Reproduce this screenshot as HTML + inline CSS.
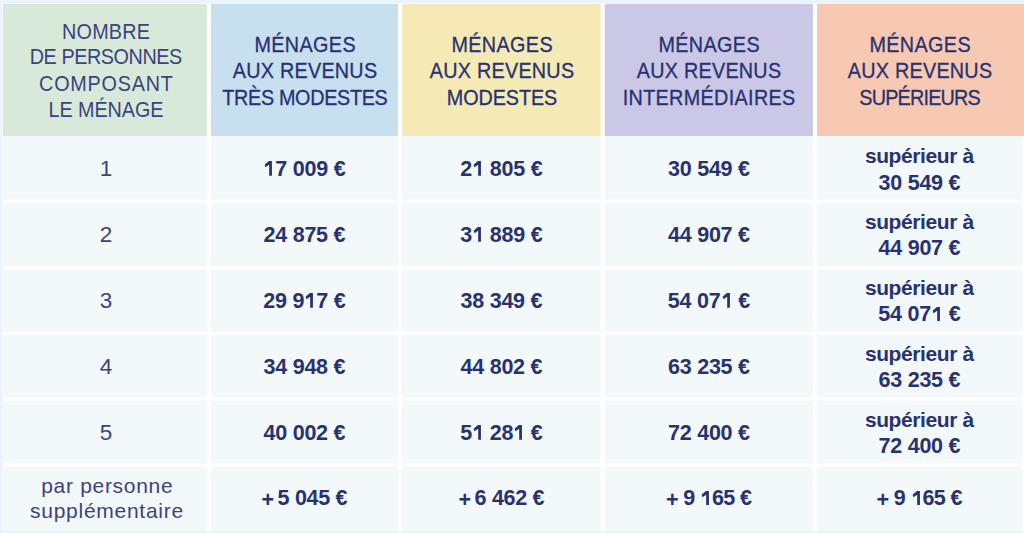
<!DOCTYPE html>
<html><head><meta charset="utf-8"><style>
html,body{margin:0;padding:0;}
body{width:1024px;height:533px;background:#ebf3fd;position:relative;overflow:hidden;font-family:"Liberation Sans",sans-serif;color:#283270;}
.fr{position:absolute;left:2px;top:3px;width:1022px;height:528px;background:#fff;box-sizing:border-box;border-left:1px solid #f3f8fe;border-top:1px solid #f3f8fe;}
.c{position:absolute;}
.pl{position:relative;top:1.2px;}
.ns{letter-spacing:-2.2px;}
.one{width:0.5562em;height:0.688em;vertical-align:baseline;fill:currentColor;}
.t{position:absolute;white-space:nowrap;text-align:center;width:400px;}
</style></head><body><div class="fr"></div>
<svg class="c" style="left:0;top:0" width="1024" height="533" viewBox="0 0 1024 533"><rect x="3" y="4" width="203.95" height="132" fill="#d8e9d9"/><rect x="210.9" y="4" width="187.1" height="132" fill="#c8dff0"/><rect x="402.1" y="4" width="198.6" height="132" fill="#f5eab5"/><rect x="604.8" y="4" width="208.1" height="132" fill="#cac8e6"/><rect x="817" y="4" width="207" height="132" fill="#f8c9b2"/><rect x="3" y="136" width="203.95" height="63.55" fill="#f3f8fb"/><rect x="210.9" y="136" width="187.1" height="63.55" fill="#f3f8fb"/><rect x="402.1" y="136" width="198.6" height="63.55" fill="#f3f8fb"/><rect x="604.8" y="136" width="208.1" height="63.55" fill="#f3f8fb"/><rect x="817" y="136" width="205" height="63.55" fill="#f3f8fb"/><rect x="3" y="203.05" width="203.95" height="63.0" fill="#f3f8fb"/><rect x="210.9" y="203.05" width="187.1" height="63.0" fill="#f3f8fb"/><rect x="402.1" y="203.05" width="198.6" height="63.0" fill="#f3f8fb"/><rect x="604.8" y="203.05" width="208.1" height="63.0" fill="#f3f8fb"/><rect x="817" y="203.05" width="205" height="63.0" fill="#f3f8fb"/><rect x="3" y="269.55" width="203.95" height="62.05" fill="#f3f8fb"/><rect x="210.9" y="269.55" width="187.1" height="62.05" fill="#f3f8fb"/><rect x="402.1" y="269.55" width="198.6" height="62.05" fill="#f3f8fb"/><rect x="604.8" y="269.55" width="208.1" height="62.05" fill="#f3f8fb"/><rect x="817" y="269.55" width="205" height="62.05" fill="#f3f8fb"/><rect x="3" y="335.1" width="203.95" height="62.25" fill="#f3f8fb"/><rect x="210.9" y="335.1" width="187.1" height="62.25" fill="#f3f8fb"/><rect x="402.1" y="335.1" width="198.6" height="62.25" fill="#f3f8fb"/><rect x="604.8" y="335.1" width="208.1" height="62.25" fill="#f3f8fb"/><rect x="817" y="335.1" width="205" height="62.25" fill="#f3f8fb"/><rect x="3" y="400.85" width="203.95" height="62.35" fill="#f3f8fb"/><rect x="210.9" y="400.85" width="187.1" height="62.35" fill="#f3f8fb"/><rect x="402.1" y="400.85" width="198.6" height="62.35" fill="#f3f8fb"/><rect x="604.8" y="400.85" width="208.1" height="62.35" fill="#f3f8fb"/><rect x="817" y="400.85" width="205" height="62.35" fill="#f3f8fb"/><rect x="3" y="466.7" width="203.95" height="64.3" fill="#f3f8fb"/><rect x="210.9" y="466.7" width="187.1" height="64.3" fill="#f3f8fb"/><rect x="402.1" y="466.7" width="198.6" height="64.3" fill="#f3f8fb"/><rect x="604.8" y="466.7" width="208.1" height="64.3" fill="#f3f8fb"/><rect x="817" y="466.7" width="205" height="64.3" fill="#f3f8fb"/></svg>
<div class="t" style="left:-93.6px;top:21.35px;font-size:22.5px;line-height:22.5px;font-weight:400;letter-spacing:0.237px;text-indent:0.237px;color:#3a447f;transform:scaleX(0.88);">NOMBRE</div>
<div class="t" style="left:-93.6px;top:46.05px;font-size:22.5px;line-height:22.5px;font-weight:400;letter-spacing:-0.506px;text-indent:-0.506px;color:#3a447f;transform:scaleX(0.88);">DE PERSONNES</div>
<div class="t" style="left:-93.6px;top:72.75px;font-size:22.5px;line-height:22.5px;font-weight:400;letter-spacing:0.889px;text-indent:0.889px;color:#3a447f;transform:scaleX(0.88);">COMPOSANT</div>
<div class="t" style="left:-93.6px;top:98.75px;font-size:22.5px;line-height:22.5px;font-weight:400;letter-spacing:-0.101px;text-indent:-0.101px;color:#3a447f;transform:scaleX(0.88);">LE MÉNAGE</div>
<div class="t" style="left:104.5px;top:35.1px;font-size:21.5px;line-height:21.5px;font-weight:400;letter-spacing:0.405px;text-indent:0.405px;-webkit-text-stroke:0.3px #283270;transform:scaleX(0.92);">MÉNAGES</div>
<div class="t" style="left:104.5px;top:60.65px;font-size:21.5px;line-height:21.5px;font-weight:400;letter-spacing:0.265px;text-indent:0.265px;-webkit-text-stroke:0.3px #283270;transform:scaleX(0.92);">AUX REVENUS</div>
<div class="t" style="left:104.5px;top:87.5px;font-size:21.5px;line-height:21.5px;font-weight:400;letter-spacing:-0.344px;text-indent:-0.344px;-webkit-text-stroke:0.3px #283270;transform:scaleX(0.92);">TRÈS MODESTES</div>
<div class="t" style="left:301.5px;top:35.1px;font-size:21.5px;line-height:21.5px;font-weight:400;letter-spacing:0.405px;text-indent:0.405px;-webkit-text-stroke:0.3px #283270;transform:scaleX(0.92);">MÉNAGES</div>
<div class="t" style="left:301.5px;top:60.65px;font-size:21.5px;line-height:21.5px;font-weight:400;letter-spacing:0.265px;text-indent:0.265px;-webkit-text-stroke:0.3px #283270;transform:scaleX(0.92);">AUX REVENUS</div>
<div class="t" style="left:301.5px;top:87.5px;font-size:21.5px;line-height:21.5px;font-weight:400;letter-spacing:-0.068px;text-indent:-0.068px;-webkit-text-stroke:0.3px #283270;transform:scaleX(0.92);">MODESTES</div>
<div class="t" style="left:509px;top:35.1px;font-size:21.5px;line-height:21.5px;font-weight:400;letter-spacing:0.405px;text-indent:0.405px;-webkit-text-stroke:0.3px #283270;transform:scaleX(0.92);">MÉNAGES</div>
<div class="t" style="left:509px;top:60.65px;font-size:21.5px;line-height:21.5px;font-weight:400;letter-spacing:0.265px;text-indent:0.265px;-webkit-text-stroke:0.3px #283270;transform:scaleX(0.92);">AUX REVENUS</div>
<div class="t" style="left:509px;top:87.5px;font-size:21.5px;line-height:21.5px;font-weight:400;letter-spacing:0.373px;text-indent:0.373px;-webkit-text-stroke:0.3px #283270;transform:scaleX(0.92);">INTERMÉDIAIRES</div>
<div class="t" style="left:719.7px;top:35.1px;font-size:21.5px;line-height:21.5px;font-weight:400;letter-spacing:0.405px;text-indent:0.405px;-webkit-text-stroke:0.3px #283270;transform:scaleX(0.92);">MÉNAGES</div>
<div class="t" style="left:719.7px;top:60.65px;font-size:21.5px;line-height:21.5px;font-weight:400;letter-spacing:0.265px;text-indent:0.265px;-webkit-text-stroke:0.3px #283270;transform:scaleX(0.92);">AUX REVENUS</div>
<div class="t" style="left:719.7px;top:87.5px;font-size:21.5px;line-height:21.5px;font-weight:400;letter-spacing:-0.864px;text-indent:-0.864px;-webkit-text-stroke:0.3px #283270;transform:scaleX(0.92);">SUPÉRIEURS</div>
<div class="t" style="left:-93.9px;top:158.05px;font-size:22.5px;line-height:22.5px;font-weight:400;color:#3a447f;">1</div>
<div class="t" style="left:104.5px;top:158.9px;font-size:21.5px;line-height:21.5px;font-weight:700;letter-spacing:-0.225px;text-indent:-0.225px;"><svg class="one" viewBox="0 0 1139 1409"><path d="M590 0H850V1409H590V360L240 590L150 350L560 0Z"/></svg>7 009 €</div>
<div class="t" style="left:301.5px;top:158.9px;font-size:21.5px;line-height:21.5px;font-weight:700;letter-spacing:-0.225px;text-indent:-0.225px;">2<svg class="one" viewBox="0 0 1139 1409"><path d="M590 0H850V1409H590V360L240 590L150 350L560 0Z"/></svg> 805 €</div>
<div class="t" style="left:509px;top:158.9px;font-size:21.5px;line-height:21.5px;font-weight:700;letter-spacing:-0.225px;text-indent:-0.225px;">30 549 €</div>
<div class="t" style="left:719.5px;top:145.42px;font-size:21px;line-height:21px;font-weight:700;letter-spacing:-0.4px;text-indent:-0.4px;">supérieur à</div>
<div class="t" style="left:719.5px;top:172.5px;font-size:21.5px;line-height:21.5px;font-weight:700;letter-spacing:-0.225px;text-indent:-0.225px;">30 549 €</div>
<div class="t" style="left:-93.9px;top:223.95px;font-size:22.5px;line-height:22.5px;font-weight:400;color:#3a447f;">2</div>
<div class="t" style="left:104.5px;top:224.8px;font-size:21.5px;line-height:21.5px;font-weight:700;letter-spacing:-0.225px;text-indent:-0.225px;">24 875 €</div>
<div class="t" style="left:301.5px;top:224.8px;font-size:21.5px;line-height:21.5px;font-weight:700;letter-spacing:-0.225px;text-indent:-0.225px;">3<svg class="one" viewBox="0 0 1139 1409"><path d="M590 0H850V1409H590V360L240 590L150 350L560 0Z"/></svg> 889 €</div>
<div class="t" style="left:509px;top:224.8px;font-size:21.5px;line-height:21.5px;font-weight:700;letter-spacing:-0.225px;text-indent:-0.225px;">44 907 €</div>
<div class="t" style="left:719.5px;top:211.32px;font-size:21px;line-height:21px;font-weight:700;letter-spacing:-0.4px;text-indent:-0.4px;">supérieur à</div>
<div class="t" style="left:719.5px;top:238.4px;font-size:21.5px;line-height:21.5px;font-weight:700;letter-spacing:-0.225px;text-indent:-0.225px;">44 907 €</div>
<div class="t" style="left:-93.9px;top:289.85px;font-size:22.5px;line-height:22.5px;font-weight:400;color:#3a447f;">3</div>
<div class="t" style="left:104.5px;top:290.7px;font-size:21.5px;line-height:21.5px;font-weight:700;letter-spacing:-0.225px;text-indent:-0.225px;">29 9<svg class="one" viewBox="0 0 1139 1409"><path d="M590 0H850V1409H590V360L240 590L150 350L560 0Z"/></svg>7 €</div>
<div class="t" style="left:301.5px;top:290.7px;font-size:21.5px;line-height:21.5px;font-weight:700;letter-spacing:-0.225px;text-indent:-0.225px;">38 349 €</div>
<div class="t" style="left:509px;top:290.7px;font-size:21.5px;line-height:21.5px;font-weight:700;letter-spacing:-0.225px;text-indent:-0.225px;">54 07<svg class="one" viewBox="0 0 1139 1409"><path d="M590 0H850V1409H590V360L240 590L150 350L560 0Z"/></svg> €</div>
<div class="t" style="left:719.5px;top:277.22px;font-size:21px;line-height:21px;font-weight:700;letter-spacing:-0.4px;text-indent:-0.4px;">supérieur à</div>
<div class="t" style="left:719.5px;top:304.3px;font-size:21.5px;line-height:21.5px;font-weight:700;letter-spacing:-0.225px;text-indent:-0.225px;">54 07<svg class="one" viewBox="0 0 1139 1409"><path d="M590 0H850V1409H590V360L240 590L150 350L560 0Z"/></svg> €</div>
<div class="t" style="left:-93.9px;top:355.75px;font-size:22.5px;line-height:22.5px;font-weight:400;color:#3a447f;">4</div>
<div class="t" style="left:104.5px;top:356.6px;font-size:21.5px;line-height:21.5px;font-weight:700;letter-spacing:-0.225px;text-indent:-0.225px;">34 948 €</div>
<div class="t" style="left:301.5px;top:356.6px;font-size:21.5px;line-height:21.5px;font-weight:700;letter-spacing:-0.225px;text-indent:-0.225px;">44 802 €</div>
<div class="t" style="left:509px;top:356.6px;font-size:21.5px;line-height:21.5px;font-weight:700;letter-spacing:-0.225px;text-indent:-0.225px;">63 235 €</div>
<div class="t" style="left:719.5px;top:343.12px;font-size:21px;line-height:21px;font-weight:700;letter-spacing:-0.4px;text-indent:-0.4px;">supérieur à</div>
<div class="t" style="left:719.5px;top:370.2px;font-size:21.5px;line-height:21.5px;font-weight:700;letter-spacing:-0.225px;text-indent:-0.225px;">63 235 €</div>
<div class="t" style="left:-93.9px;top:421.65px;font-size:22.5px;line-height:22.5px;font-weight:400;color:#3a447f;">5</div>
<div class="t" style="left:104.5px;top:422.5px;font-size:21.5px;line-height:21.5px;font-weight:700;letter-spacing:-0.225px;text-indent:-0.225px;">40 002 €</div>
<div class="t" style="left:301.5px;top:422.5px;font-size:21.5px;line-height:21.5px;font-weight:700;letter-spacing:-0.225px;text-indent:-0.225px;">5<svg class="one" viewBox="0 0 1139 1409"><path d="M590 0H850V1409H590V360L240 590L150 350L560 0Z"/></svg> 28<svg class="one" viewBox="0 0 1139 1409"><path d="M590 0H850V1409H590V360L240 590L150 350L560 0Z"/></svg> €</div>
<div class="t" style="left:509px;top:422.5px;font-size:21.5px;line-height:21.5px;font-weight:700;letter-spacing:-0.225px;text-indent:-0.225px;">72 400 €</div>
<div class="t" style="left:719.5px;top:409.02px;font-size:21px;line-height:21px;font-weight:700;letter-spacing:-0.4px;text-indent:-0.4px;">supérieur à</div>
<div class="t" style="left:719.5px;top:436.1px;font-size:21.5px;line-height:21.5px;font-weight:700;letter-spacing:-0.225px;text-indent:-0.225px;">72 400 €</div>
<div class="t" style="left:-93.1px;top:474.92px;font-size:21px;line-height:21px;font-weight:400;letter-spacing:0.701px;text-indent:0.701px;color:#3a447f;">par personne</div>
<div class="t" style="left:-93.4px;top:499.92px;font-size:21px;line-height:21px;font-weight:400;letter-spacing:0.731px;text-indent:0.731px;color:#3a447f;">supplémentaire</div>
<div class="t" style="left:104.5px;top:488.4px;font-size:21.5px;line-height:21.5px;font-weight:700;letter-spacing:-0.31px;text-indent:-0.31px;"><span class="pl">+</span><span class="ns"> </span>5 045 €</div>
<div class="t" style="left:301.5px;top:488.4px;font-size:21.5px;line-height:21.5px;font-weight:700;letter-spacing:-0.31px;text-indent:-0.31px;"><span class="pl">+</span><span class="ns"> </span>6 462 €</div>
<div class="t" style="left:509px;top:488.4px;font-size:21.5px;line-height:21.5px;font-weight:700;letter-spacing:-0.63px;text-indent:-0.63px;"><span class="pl">+</span> 9 <svg class="one" viewBox="0 0 1139 1409"><path d="M590 0H850V1409H590V360L240 590L150 350L560 0Z"/></svg>65 €</div>
<div class="t" style="left:719.5px;top:488.4px;font-size:21.5px;line-height:21.5px;font-weight:700;letter-spacing:-0.63px;text-indent:-0.63px;"><span class="pl">+</span> 9 <svg class="one" viewBox="0 0 1139 1409"><path d="M590 0H850V1409H590V360L240 590L150 350L560 0Z"/></svg>65 €</div>
</body></html>
